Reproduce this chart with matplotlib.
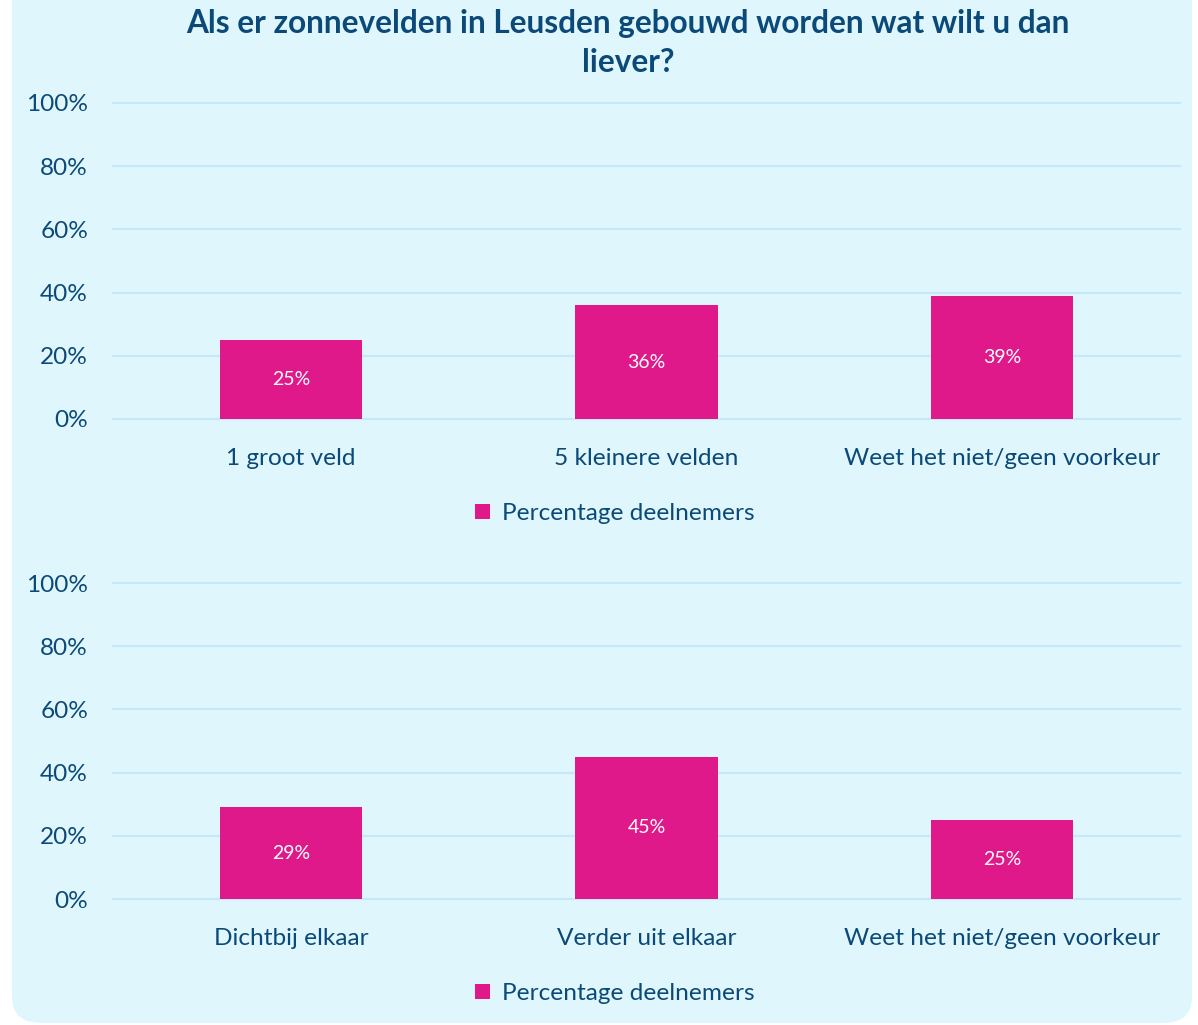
import matplotlib.pyplot as plt
from matplotlib.patches import FancyBboxPatch

plt.rcParams['font.family'] = ['Lato', 'DejaVu Sans']

title = 'Als er zonnevelden in Leusden gebouwd worden wat wilt u dan\nliever?'
series_name = 'Percentage deelnemers'

cats_top = ['1 groot veld', '5 kleinere velden', 'Weet het niet/geen voorkeur']
vals_top = [25, 36, 39]

cats_bottom = ['Dichtbij elkaar', 'Verder uit elkaar', 'Weet het niet/geen voorkeur']
vals_bottom = [29, 45, 25]

yticks = [0, 20, 40, 60, 80, 100]

bg = '#dff6fd'
bar_color = '#e0198a'
text_color = '#0b4a78'
grid_color = '#c6e8f8'

W, H = 1198, 1025
fig = plt.figure(figsize=(W / 100, H / 100), dpi=100)
fig.patch.set_facecolor('white')

# rounded background panel
box = FancyBboxPatch((12 / W, 2 / H), (1180 / W), 1.1, boxstyle='round,pad=0,rounding_size=0.025',
                     transform=fig.transFigure, facecolor=bg, edgecolor='none', zorder=-10)
fig.patches.append(box)

fig.text(628 / W, 1 - 43 / H, title, ha='center', va='center', fontsize=22.7,
         fontweight='bold', color=text_color, linespacing=1.45)


def draw(ax, cats, vals):
    ax.set_facecolor('none')
    x = list(range(len(cats)))
    bars = ax.bar(x, vals, width=0.4, color=bar_color, label=series_name, zorder=3)
    for b, v in zip(bars, vals):
        ax.text(b.get_x() + b.get_width() / 2, v / 2, f'{v}%', ha='center', va='center',
                color='white', fontsize=14, zorder=4)
    ax.set_xlim(-0.5, len(cats) - 0.5)
    ax.set_ylim(0, 100)
    ax.set_yticks(yticks)
    ax.set_yticklabels([f'{t}%' for t in yticks])
    ax.set_xticks(x)
    ax.set_xticklabels(cats)
    ax.tick_params(axis='both', length=0, labelsize=17.6, labelcolor=text_color)
    ax.tick_params(axis='y', pad=18)
    ax.tick_params(axis='x', pad=21)
    for t in yticks:
        ax.axhline(t, color=grid_color, lw=1.6, zorder=1, clip_on=False)
    for s in ax.spines.values():
        s.set_visible(False)
    leg = ax.legend(loc='center', bbox_to_anchor=(0.4705, -0.30), frameon=False,
                    fontsize=17.6, handlelength=0.6, handleheight=0.6, handletextpad=0.5)
    for t in leg.get_texts():
        t.set_color(text_color)


ax1 = fig.add_axes([113 / W, 1 - 419 / H, 1067 / W, 316 / H])
draw(ax1, cats_top, vals_top)
ax2 = fig.add_axes([113 / W, 1 - 899 / H, 1067 / W, 316 / H])
draw(ax2, cats_bottom, vals_bottom)

fig.savefig('out.png', dpi=100, facecolor=fig.get_facecolor())
